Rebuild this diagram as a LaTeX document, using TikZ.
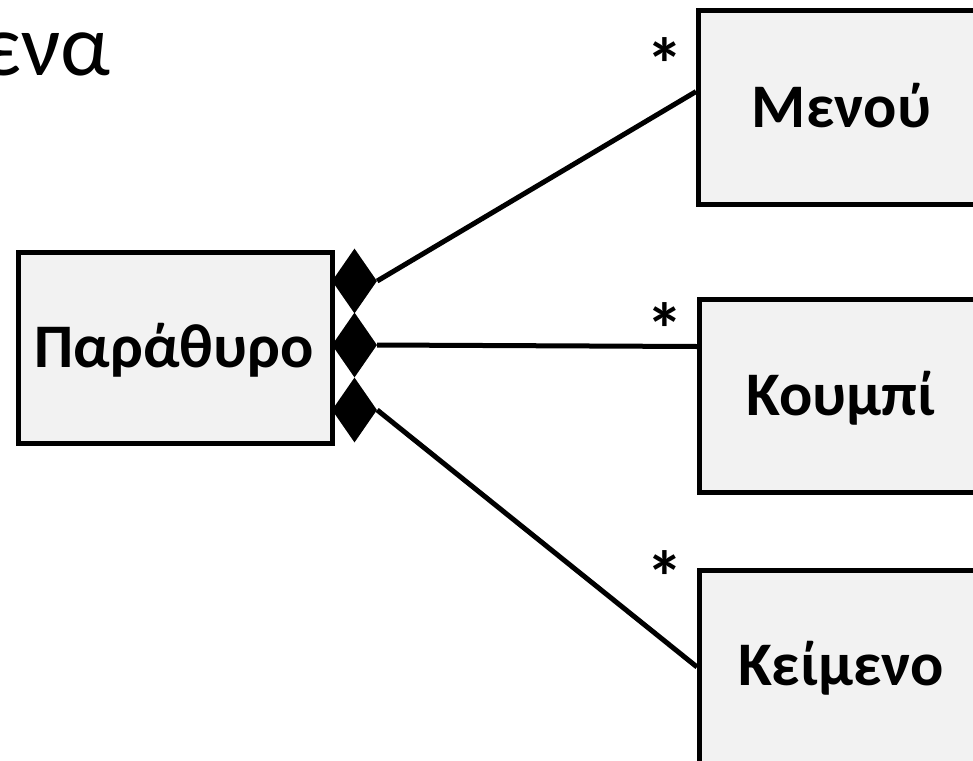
\documentclass[tikz,border=0pt]{standalone}
\usepackage{fontspec}
\setmainfont{Carlito}
\usetikzlibrary{shapes.geometric,calc}
\definecolor{boxfill}{HTML}{F2F2F2}
\tikzset{
  classbox/.style={draw=black, line width=5pt, fill=boxfill, rectangle, inner sep=0pt},
  classlabel/.style={font=\fontsize{62}{66}\selectfont\bfseries, inner sep=0pt, anchor=base},
  compdiamond/.style={diamond, fill=black, draw=none, inner sep=0pt, minimum width=45, minimum height=65},
  link/.style={line width=5pt},
  mult/.style={font=\fontsize{74}{78}\selectfont\bfseries, inner sep=0pt, anchor=north}
}
\begin{document}
\begin{tikzpicture}[x=1pt, y=-1pt]
\useasboundingbox (0,0) rectangle (973,760);
\fill[white] (0,0) rectangle (973,760);

% heading, cut off at the left margin
\node[font=\fontsize{88}{92}\selectfont, anchor=base east, inner sep=0pt] (title) at (111,75) {ενα};

% whole class
\node[classbox, minimum width=314, minimum height=191, anchor=north west] (window) at (16,250) {};
\node[classlabel] (windowlabel) at (174,367) {Παράθυρο};

% part classes (extend past the right margin)
\node[classbox, minimum width=320, minimum height=194, anchor=north west] (menu) at (696,8) {};
\node[classlabel] (menulabel) at (841.5,127) {Μενού};
\node[classbox, minimum width=320, minimum height=193, anchor=north west] (button) at (697,297) {};
\node[classlabel] (buttonlabel) at (841,415) {Κουμπί};
\node[classbox, minimum width=320, minimum height=220, anchor=north west] (text) at (697,568) {};
\node[classlabel] (textlabel) at (841,685) {Κείμενο};

% composition diamonds
\node[compdiamond] (d1) at (354.5,281) {};
\node[compdiamond] (d2) at (354.5,345) {};
\node[compdiamond] (d3) at (354.5,410) {};

% connectors
\draw[link] (d1.east) -- ($(menu.north west)!0.42!(menu.south west)$);
\draw[link] (d2.east) -- ($(button.north west)!0.25!(button.south west)$);
\draw[link] (d3.east) -- ($(text.north west)!0.44!(text.south west)$);

% multiplicities
\node[mult] (m1) at (665,37) {*};
\node[mult] (m2) at (665,302) {*};
\node[mult] (m3) at (665,550) {*};
\end{tikzpicture}
\end{document}
